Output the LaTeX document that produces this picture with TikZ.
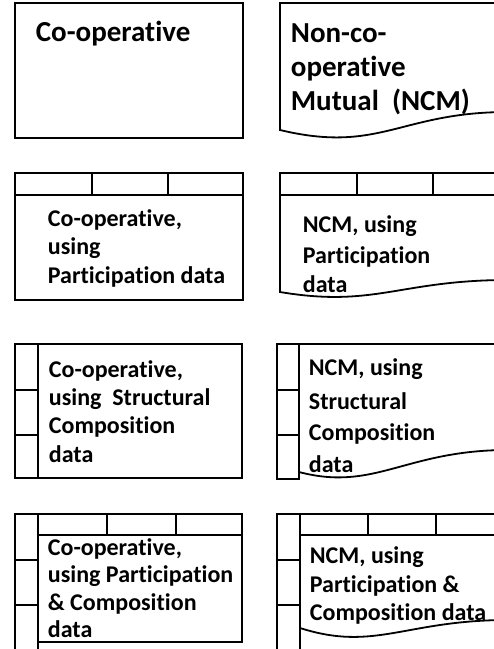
\documentclass[tikz,border=0pt]{standalone}
\usepackage{fontspec}
\setmainfont{Carlito}[Ligatures=NoCommon]
\begin{document}
\begin{tikzpicture}[x=1pt,y=-1pt,line width=1.8pt,
  lbl/.style={anchor=base west,inner sep=0pt,font=\bfseries\fontsize{24}{29}\selectfont},
  big/.style={anchor=base west,inner sep=0pt,font=\bfseries\fontsize{29}{34}\selectfont}]
\useasboundingbox (0,0) rectangle (494,649);
\fill[white] (0,0) rectangle (494,649);
\begin{scope}
\clip (0,0) rectangle (494,649);
% row 1
\draw (15,3) rectangle (243,138);
\draw (508,112) -- (508,3) -- (280,3) -- (280,130) .. controls (380,154) and (400,112) .. (508,112);
% row 2
\draw (15,173) rectangle (243,300);
\draw (15,195) -- (243,195);
\draw (92,173) -- (92,195);
\draw (168,173) -- (168,195);
\draw (508,280) -- (508,173) -- (280,173) -- (280,292) .. controls (375,308) and (400,280) .. (508,280);
\draw (280,195) -- (508,195);
\draw (357,173) -- (357,195);
\draw (433,173) -- (433,195);
% row 3
\draw (15,344) rectangle (242,478);
\draw (38,344) -- (38,478);
\draw (15,390) -- (38,390);
\draw (15,435) -- (38,435);
\draw (277,344) rectangle (299,479);
\draw (277,390) -- (299,390);
\draw (277,435) -- (299,435);
\draw (299,344) -- (508,344);
\draw (299,472) .. controls (375,492) and (405,450) .. (508,450);
% row 4
\draw (15,660) -- (15,514) -- (38,514) -- (38,660);
\draw (15,560) -- (38,560);
\draw (15,605) -- (38,605);
\draw (38,514) -- (242,514) -- (242,642) -- (38,642);
\draw (38,535) -- (242,535);
\draw (107,514) -- (107,535);
\draw (176,514) -- (176,535);
\draw (277,660) -- (277,514) -- (300,514) -- (300,660);
\draw (277,560) -- (300,560);
\draw (277,605) -- (300,605);
\draw (300,514) -- (508,514);
\draw (300,535) -- (508,535);
\draw (368,514) -- (368,535);
\draw (436,514) -- (436,535);
\draw (300,628) .. controls (375,652) and (405,620) .. (508,620);
\end{scope}
% texts
\node[big] (t1a) at (35,41) {Co-operative};
\node[big] (t1b) at (290,42) {Non-co-};
\node[big] (t1c) at (290,76) {operative};
\node[big] (t1d) at (290,110) {Mutual\ \ (NCM)};
\node[lbl] (t2a) at (47,226) {Co-operative,};
\node[lbl] (t2b) at (47,254.5) {using};
\node[lbl] (t2c) at (47,283) {Participation data};
\node[lbl] (t2d) at (302,232) {NCM, using};
\node[lbl] (t2e) at (302,263) {Participation};
\node[lbl] (t2f) at (302,292) {data};
\node[lbl] (t3a) at (48,377) {Co-operative,};
\node[lbl] (t3b) at (48,405) {using\ \ Structural};
\node[lbl] (t3c) at (48,433) {Composition};
\node[lbl] (t3d) at (48,462) {data};
\node[lbl] (t3e) at (308,375) {NCM, using};
\node[lbl] (t3f) at (308,409) {Structural};
\node[lbl] (t3g) at (308,440) {Composition};
\node[lbl] (t3h) at (308,472) {data};
\node[lbl] (t4a) at (47,555) {Co-operative,};
\node[lbl] (t4b) at (47,582) {using Participation};
\node[lbl] (t4c) at (47,610) {\& Composition};
\node[lbl] (t4d) at (47,637) {data};
\node[lbl] (t4e) at (309,563) {NCM, using};
\node[lbl] (t4f) at (309,592) {Participation \&};
\node[lbl] (t4g) at (309,620) {Composition data};
\end{tikzpicture}
\end{document}
